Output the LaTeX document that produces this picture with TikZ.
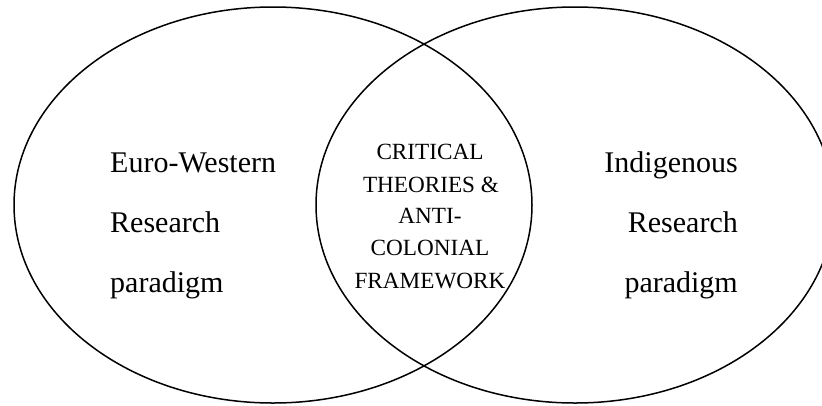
\documentclass[tikz,border=0pt]{standalone}
\usepackage{fontspec}
\setmainfont{Liberation Serif}
\tikzset{
  venn/.style={line width=1.5pt, black},
  bigtxt/.style={inner sep=0pt, font=\fontsize{30}{36}\selectfont},
  midtxt/.style={inner sep=0pt, font=\fontsize{23.2}{26}\selectfont, anchor=base},
}
\begin{document}
\begin{tikzpicture}[x=1pt,y=-1pt]
\useasboundingbox (0,0) rectangle (822,405);
\begin{scope}
\clip (0,0) rectangle (822,405);
\draw[venn] (273,205) ellipse [x radius=259pt, y radius=198pt];
\draw[venn] (575,205) ellipse [x radius=259pt, y radius=198pt];
\end{scope}
% left text
\node[bigtxt, anchor=base west] (l1) at (110,172) {Euro-Western};
\node[bigtxt, anchor=base west] (l2) at (110,232) {Research};
\node[bigtxt, anchor=base west] (l3) at (110,292) {paradigm};
% right text
\node[bigtxt, anchor=base east] (r1) at (738,172) {Indigenous};
\node[bigtxt, anchor=base east] (r2) at (738,232) {Research};
\node[bigtxt, anchor=base east] (r3) at (738,292) {paradigm};
% middle text
\node[midtxt] (m1) at (430,159) {CRITICAL};
\node[midtxt] (m2) at (431,192) {THEORIES \&};
\node[midtxt] (m3) at (430,223) {ANTI-};
\node[midtxt] (m4) at (430,255) {COLONIAL};
\node[midtxt] (m5) at (430,288) {FRAMEWORK};
\end{tikzpicture}
\end{document}
